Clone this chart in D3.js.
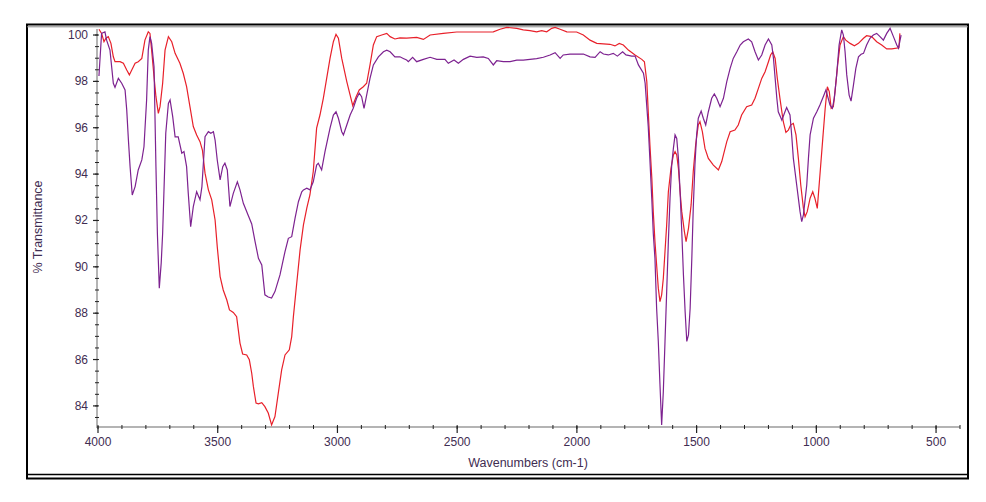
<!DOCTYPE html>
<html>
<head>
<meta charset="utf-8">
<script src="https://cdn.jsdelivr.net/npm/d3@7"></script>
<style>
  body { margin: 0; background: #fff; }
  svg { display: block; font-family: Arial, "Liberation Sans", sans-serif; }
</style>
</head>
<body>
<div id="chart"></div>
<script>
const W = 986, H = 502;

// axis ranges (wavenumber runs right-to-left)
const xDomain = [4000, 400];
const yDomain = [83.09, 100.26];
const xMajor = [4000, 3500, 3000, 2500, 2000, 1500, 1000, 500];
const yMajor = [84, 86, 88, 90, 92, 94, 96, 98, 100];

// purple spectrum: [wavenumber, %T]
const purpleSpec = [
  [3996,98.23],[3985,100.07],[3971,100.14],[3964,99.78],[3950,99.35],[3936,97.92],[3929,97.74],
  [3915,98.13],[3901,97.92],[3887,97.63],[3880,96.77],[3873,95.47],[3866,94.32],[3857,93.10],
  [3845,93.46],[3832,94.18],[3817,94.61],[3808,95.18],[3797,97.2],[3790,99.35],[3783,99.93],
  [3776,99.64],[3766,98.63],[3758,94.32],[3752,91.45],[3744,89.08],[3736,90.17],[3730,91.45],
  [3717,95.76],[3706,97.05],[3699,97.2],[3688,96.48],[3678,95.61],[3665,95.61],[3650,94.9],
  [3641,94.97],[3630,94.32],[3623,93.17],[3613,91.73],[3602,92.6],[3588,93.24],[3574,92.89],
  [3566,93.46],[3553,95.61],[3539,95.83],[3529,95.76],[3518,95.83],[3511,95.47],[3502,94.61],
  [3490,93.75],[3479,94.32],[3470,94.47],[3460,94.18],[3449,92.6],[3435,93.17],[3418,93.67],
  [3407,93.32],[3393,92.74],[3372,92.2],[3358,91.85],[3344,91.09],[3330,90.37],[3316,90.08],
  [3303,88.79],[3289,88.7],[3275,88.65],[3261,88.93],[3240,89.65],[3219,90.66],[3205,91.23],
  [3191,91.3],[3177,92.1],[3163,92.81],[3149,93.24],[3142,93.32],[3128,93.39],[3115,93.32],
  [3101,93.67],[3087,94.39],[3080,94.47],[3066,94.18],[3052,94.97],[3031,95.98],[3017,96.55],
  [3006,96.69],[2996,96.41],[2982,95.83],[2975,95.69],[2961,96.12],[2947,96.55],[2934,96.84],
  [2920,97.27],[2909,97.49],[2899,97.34],[2889,96.84],[2878,97.41],[2864,98.13],[2850,98.71],
  [2829,99.06],[2808,99.28],[2794,99.35],[2780,99.28],[2760,99.06],[2739,99.06],[2725,98.99],
  [2711,98.92],[2704,98.85],[2686,99.04],[2669,98.85],[2641,98.95],[2613,99.04],[2585,98.95],
  [2551,98.95],[2537,98.78],[2513,98.92],[2495,98.78],[2474,98.95],[2446,99.09],[2418,99.04],
  [2391,99.06],[2370,98.99],[2349,98.71],[2335,98.89],[2307,98.85],[2279,98.85],[2251,98.92],
  [2224,98.92],[2196,98.95],[2168,98.98],[2140,99.04],[2112,99.14],[2091,99.24],[2070,98.99],
  [2057,99.14],[2029,99.18],[1973,99.18],[1945,99.06],[1924,99.04],[1903,99.28],[1889,99.18],
  [1869,99.14],[1848,99.21],[1831,99.09],[1809,99.28],[1795,99.14],[1771,99.09],[1757,99.09],
  [1743,98.71],[1722,98.35],[1715,97.92],[1708,96.91],[1702,96.05],[1695,94.61],[1687,92.89],
  [1681,91.45],[1674,90.37],[1667,88.21],[1660,86.78],[1653,84.91],[1646,83.18],[1639,84.62],
  [1632,86.78],[1625,88.93],[1618,91.09],[1611,92.96],[1604,94.39],[1597,95.11],[1590,95.69],
  [1583,95.54],[1576,94.68],[1569,93.24],[1562,91.52],[1555,89.65],[1548,88.07],[1541,86.78],
  [1534,87.06],[1527,88.21],[1520,90.37],[1514,92.53],[1507,94.39],[1500,95.69],[1493,96.41],
  [1481,96.72],[1472,96.41],[1462,96.12],[1451,96.69],[1437,97.27],[1426,97.46],[1416,97.27],
  [1402,96.91],[1388,97.27],[1374,97.99],[1360,98.56],[1347,98.99],[1332,99.28],[1318,99.57],
  [1305,99.71],[1284,99.83],[1270,99.71],[1256,99.28],[1242,98.92],[1228,99.14],[1214,99.57],
  [1200,99.83],[1186,99.57],[1179,98.99],[1172,98.13],[1165,97.27],[1159,96.69],[1144,96.33],
  [1131,96.69],[1124,96.87],[1110,96.55],[1103,95.69],[1096,94.68],[1082,93.53],[1068,92.38],
  [1061,91.95],[1054,92.24],[1040,93.53],[1033,94.68],[1026,95.69],[1012,96.41],[998,96.69],
  [985,96.98],[971,97.34],[960,97.63],[943,96.98],[933,96.84],[925,97.27],[915,98.28],
  [905,99.57],[894,100.22],[887,100.0],[880,99.28],[873,98.28],[863,97.41],[855,97.15],
  [845,97.84],[835,98.56],[824,99.06],[813,99.17],[803,99.21],[790,99.57],[776,99.86],
  [762,100.0],[748,100.07],[734,99.93],[720,99.78],[706,100.07],[692,100.29],[678,99.93],
  [664,99.57],[657,99.43],[646,100.0]
];

// red spectrum: [wavenumber, %T]
const redSpec = [
  [3996,100.25],[3985,100.07],[3975,99.71],[3967,99.86],[3957,99.93],[3946,99.64],[3936,99.06],
  [3929,98.85],[3908,98.85],[3894,98.78],[3880,98.49],[3869,98.28],[3859,98.49],[3845,98.78],
  [3832,98.85],[3817,98.99],[3804,99.78],[3790,100.14],[3783,100.07],[3776,99.35],[3766,98.2],
  [3758,97.34],[3748,96.62],[3741,96.91],[3730,97.92],[3720,99.35],[3706,99.93],[3692,99.71],
  [3678,99.21],[3658,98.78],[3644,98.35],[3630,97.77],[3616,96.91],[3602,96.05],[3588,95.69],
  [3574,95.4],[3564,95.04],[3553,94.04],[3539,93.32],[3525,92.89],[3511,92.02],[3502,90.87],
  [3490,89.58],[3477,89.0],[3462,88.57],[3451,88.14],[3435,88.03],[3421,87.85],[3414,87.28],
  [3407,86.71],[3396,86.24],[3379,86.2],[3368,85.99],[3358,85.41],[3351,84.83],[3340,84.12],
  [3330,84.09],[3316,84.14],[3303,83.97],[3289,83.69],[3275,83.18],[3261,83.54],[3247,84.55],
  [3233,85.55],[3219,86.2],[3201,86.42],[3191,86.99],[3184,87.85],[3170,89.29],[3156,90.73],
  [3142,91.81],[3128,92.53],[3115,93.1],[3101,94.11],[3087,95.98],[3073,96.55],[3059,97.27],
  [3045,98.13],[3031,98.99],[3017,99.71],[3006,100.03],[2996,99.86],[2982,98.99],[2961,97.99],
  [2947,97.41],[2936,96.95],[2922,97.34],[2909,97.63],[2892,97.77],[2878,97.92],[2864,98.71],
  [2850,99.57],[2836,99.93],[2815,100.0],[2794,100.07],[2780,99.93],[2760,99.83],[2739,99.88],
  [2711,99.87],[2669,99.9],[2641,99.81],[2613,100.0],[2558,100.07],[2502,100.13],[2446,100.13],
  [2391,100.13],[2349,100.14],[2321,100.25],[2293,100.33],[2251,100.29],[2224,100.22],
  [2196,100.19],[2168,100.14],[2147,100.19],[2126,100.14],[2105,100.29],[2091,100.33],
  [2070,100.25],[2042,100.14],[2001,100.13],[1973,100.0],[1945,99.78],[1917,99.64],[1862,99.6],
  [1841,99.53],[1823,99.64],[1806,99.57],[1785,99.35],[1757,99.14],[1729,98.95],[1718,98.85],
  [1708,97.99],[1702,96.69],[1695,95.26],[1687,93.82],[1681,92.38],[1674,91.09],[1667,90.08],
  [1660,89.08],[1653,88.5],[1646,88.79],[1639,89.51],[1632,90.66],[1625,91.81],[1618,93.24],
  [1607,94.25],[1597,94.83],[1590,94.97],[1583,94.83],[1576,94.25],[1569,93.24],[1562,92.38],
  [1551,91.52],[1544,91.09],[1534,91.66],[1523,92.67],[1514,94.11],[1504,95.26],[1493,96.12],
  [1486,96.26],[1476,95.83],[1465,95.11],[1451,94.68],[1430,94.39],[1409,94.18],[1395,94.54],
  [1388,94.83],[1374,95.4],[1360,95.83],[1340,95.9],[1326,96.12],[1312,96.55],[1291,96.91],
  [1270,96.98],[1256,97.27],[1242,97.7],[1228,98.13],[1214,98.42],[1200,98.85],[1191,99.14],
  [1182,99.28],[1172,98.99],[1163,98.13],[1152,97.27],[1138,96.26],[1127,95.8],[1117,95.9],
  [1107,96.12],[1096,96.19],[1085,95.69],[1075,94.68],[1065,93.53],[1054,92.53],[1047,92.16],
  [1038,92.38],[1026,92.96],[1015,93.24],[1006,92.96],[996,92.52],[985,93.96],[973,95.54],
  [963,96.84],[954,97.77],[946,97.56],[938,96.84],[929,96.91],[922,97.56],[911,98.71],
  [901,99.57],[887,99.93],[877,99.78],[859,99.64],[841,99.54],[824,99.64],[803,99.86],
  [790,99.97],[769,99.93],[748,99.71],[727,99.57],[706,99.4],[685,99.4],[655,99.45],[651,100.07]
];

const svg = d3.select("#chart").append("svg")
  .attr("width", W)
  .attr("height", H);

svg.append("rect").attr("width", W).attr("height", H).attr("fill", "#fff");

const x = d3.scaleLinear().domain(xDomain).range([98, 960]);
const y = d3.scaleLinear().domain(yDomain).range([427, 29]);

// frame (double border like the instrument software)
svg.append("rect")
  .attr("x", 27).attr("y", 24.5)
  .attr("width", 941).attr("height", 454)
  .attr("fill", "none").attr("stroke", "#000").attr("stroke-width", 2);
svg.append("line")
  .attr("x1", 27).attr("x2", 968).attr("y1", 474.5).attr("y2", 474.5)
  .attr("stroke", "#000").attr("stroke-width", 1.5);
svg.append("line")
  .attr("x1", 27).attr("x2", 968).attr("y1", 26.8).attr("y2", 26.8)
  .attr("stroke", "#888").attr("stroke-width", 1);

// axis lines
svg.append("line")
  .attr("x1", 97).attr("x2", 960).attr("y1", 427).attr("y2", 427)
  .attr("stroke", "#b4b4b4").attr("stroke-width", 2);
svg.append("line")
  .attr("x1", 97).attr("x2", 97).attr("y1", 29).attr("y2", 428)
  .attr("stroke", "#b4b4b4").attr("stroke-width", 2);

// x ticks
const xMinor = d3.range(4000, 399, -100);
svg.append("g").selectAll("line")
  .data(xMinor)
  .join("line")
  .attr("x1", d => x(d)).attr("x2", d => x(d))
  .attr("y1", 425).attr("y2", 429)
  .attr("stroke", "#222").attr("stroke-width", 1);
svg.append("g").selectAll("line")
  .data(xMajor)
  .join("line")
  .attr("x1", d => x(d)).attr("x2", d => x(d))
  .attr("y1", 426).attr("y2", 433)
  .attr("stroke", "#222").attr("stroke-width", 1.2);
svg.append("g").selectAll("text")
  .data(xMajor)
  .join("text")
  .attr("x", d => x(d))
  .attr("y", 446)
  .attr("text-anchor", "middle")
  .attr("font-size", 12)
  .attr("fill", "#3f2d52")
  .text(d => d);

// y ticks
const yMinor = d3.range(83.5, 100.01, 0.5);
svg.append("g").selectAll("line")
  .data(yMinor)
  .join("line")
  .attr("x1", 95).attr("x2", 99)
  .attr("y1", d => y(d)).attr("y2", d => y(d))
  .attr("stroke", "#222").attr("stroke-width", 1);
svg.append("g").selectAll("line")
  .data(yMajor)
  .join("line")
  .attr("x1", 93).attr("x2", 98)
  .attr("y1", d => y(d)).attr("y2", d => y(d))
  .attr("stroke", "#222").attr("stroke-width", 1.2);
svg.append("g").selectAll("text")
  .data(yMajor)
  .join("text")
  .attr("x", 88)
  .attr("y", d => y(d) + 4)
  .attr("text-anchor", "end")
  .attr("font-size", 12)
  .attr("fill", "#3f2d52")
  .text(d => d);

// axis titles
svg.append("text")
  .attr("x", 528).attr("y", 467)
  .attr("text-anchor", "middle")
  .attr("font-size", 12.5)
  .attr("fill", "#3f2d52")
  .text("Wavenumbers (cm-1)");
svg.append("text")
  .attr("transform", "translate(42,227) rotate(-90)")
  .attr("text-anchor", "middle")
  .attr("font-size", 12.5)
  .attr("fill", "#3f2d52")
  .text("% Transmittance");

// spectra
const line = d3.line()
  .x(d => x(d[0]))
  .y(d => y(d[1]));

svg.append("path")
  .datum(redSpec)
  .attr("d", line)
  .attr("fill", "none")
  .attr("stroke", "#e8202a")
  .attr("stroke-width", 1.2);

svg.append("path")
  .datum(purpleSpec)
  .attr("d", line)
  .attr("fill", "none")
  .attr("stroke", "#7d2290")
  .attr("stroke-width", 1.2);
</script>
</body>
</html>
